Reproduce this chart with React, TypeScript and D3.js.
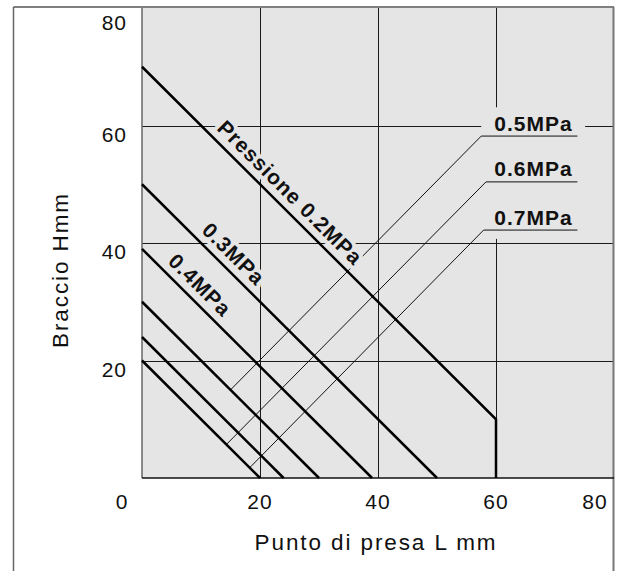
import React from 'react'
import * as d3 from 'd3'

// pressure curves: H + L limit lines (L = grip point, H = arm)
const curveNames = ['Pressione 0.2MPa', '0.3MPa', '0.4MPa', '0.5MPa', '0.6MPa', '0.7MPa']
const curveL = [[0, 60, 60], [0, 50], [0, 39], [0, 30], [0, 24], [0, 20]]
const curveH = [[70, 10, 0], [50, 0], [39, 0], [30, 0], [24, 0], [20, 0]]

// leader lines for the three labels on the right
const leaderNames = ['0.5MPa', '0.6MPa', '0.7MPa']
const leaderL = [[15, 57.5, 73.8], [14.3, 58.3, 73.8], [18.3, 57.9, 73.8]]
const leaderH = [[15, 58.2, 58.2], [5.7, 50.4, 50.4], [1.8, 42.2, 42.2]]

const xTicks = [0, 20, 40, 60, 80]
const yTicks = [20, 40, 60, 80]
const gridVals = [20, 40, 60]

const W = 618
const H = 571
const FONT = 'Liberation Sans, Arial, Helvetica, sans-serif'
const BG = '#e5e5e5'

// where the inline labels start along their curve (L value)
const inlineStart = [11.6, 9, 3.3]

export default function App() {
  const x = d3.scaleLinear().domain([0, 80]).range([142, 614])
  const y = d3.scaleLinear().domain([0, 80]).range([478, 8])
  const line = d3.line<[number, number]>().x(d => x(d[0])).y(d => y(d[1]))
  const cx = (v: number) => Math.round(x(v)) + 0.5
  const cy = (v: number) => Math.round(y(v)) + 0.5

  const ang = Math.atan2(y(0) - y(1), x(1) - x(0))
  const angDeg = (ang * 180) / Math.PI
  const off = 8

  const inline = inlineStart.map((l0, i) => {
    const sum = curveH[i][0]
    const px = x(l0) + Math.sin(ang) * off
    const py = y(sum - l0) - Math.cos(ang) * off
    return { name: curveNames[i], px, py }
  })

  return (
    <svg width={W} height={H} style={{ position: 'absolute', left: 0, top: 0, display: 'block' }}
      fontFamily={FONT}>
      <rect x={0} y={0} width={W} height={H} fill="#fff" />
      <rect x={x(0)} y={y(80)} width={x(80) - x(0)} height={y(0) - y(80)} fill={BG} />

      {gridVals.map(v => (
        <g key={'g' + v}>
          <line x1={cx(v)} x2={cx(v)} y1={y(0)} y2={y(80)} stroke="#1a1a1a" strokeWidth={1} />
          <line x1={x(0)} x2={x(80)} y1={cy(v)} y2={cy(v)} stroke="#1a1a1a" strokeWidth={1} />
        </g>
      ))}

      {/* blank box behind the right-hand labels */}
      <rect x={x(57.5)} y={y(63.1)} width={x(75.1) - x(57.5)} height={y(40.7) - y(63.1)} fill={BG} />

      {/* frame */}
      <line x1={13.5} x2={13.5} y1={7} y2={H} stroke="#666" strokeWidth={1.5} />
      <line x1={13.5} x2={x(80)} y1={7} y2={7} stroke="#555" strokeWidth={1.5} />
      <line x1={x(80) - 0.5} x2={x(80) - 0.5} y1={7} y2={H} stroke="#777" strokeWidth={2} />
      <line x1={x(0)} x2={x(0)} y1={y(80)} y2={y(0)} stroke="#666" strokeWidth={1.5} />
      <line x1={x(0)} x2={x(80)} y1={y(0)} y2={y(0)} stroke="#111" strokeWidth={1.5} />

      {leaderL.map((ls, i) => (
        <path key={'ld' + i} d={line(ls.map((l, j) => [l, leaderH[i][j]] as [number, number])) || ''}
          fill="none" stroke="#111" strokeWidth={1} />
      ))}

      {curveL.map((ls, i) => (
        <path key={'c' + i} d={line(ls.map((l, j) => [l, curveH[i][j]] as [number, number])) || ''}
          fill="none" stroke="#000" strokeWidth={2.5} />
      ))}

      {inline.map(t => (
        <text key={t.name} transform={`translate(${t.px},${t.py}) rotate(${angDeg})`}
          fontSize={21} fontWeight="bold" letterSpacing={1} fill="#111"
          stroke={BG} strokeWidth={8} strokeLinejoin="round" style={{ paintOrder: 'stroke' }}>
          {t.name}
        </text>
      ))}

      {leaderNames.map((n, i) => (
        <text key={n} x={x(59.7)} y={y(leaderH[i][2]) - 5.5} fontSize={21} fontWeight="bold"
          letterSpacing={1} fill="#111">{n}</text>
      ))}

      {xTicks.map(v => (
        <text key={'xt' + v} x={x(v) + (v === 0 ? -20 : v === 80 ? -19 : 0)} y={y(0) + 31}
          textAnchor="middle" fontSize={21} letterSpacing={1} fill="#111">{v}</text>
      ))}
      {yTicks.map(v => (
        <text key={'yt' + v} x={127} y={y(v) + (v === 80 ? 22 : 16)}
          textAnchor="end" fontSize={21} letterSpacing={1} fill="#111">{v}</text>
      ))}

      <text x={376} y={550} textAnchor="middle" fontSize={22.5} letterSpacing={1.9} fill="#111">
        Punto di presa L mm
      </text>
      <text transform="translate(68,270) rotate(-90)" textAnchor="middle" fontSize={22.5}
        letterSpacing={1.9} fill="#111">
        Braccio Hmm
      </text>
    </svg>
  )
}
